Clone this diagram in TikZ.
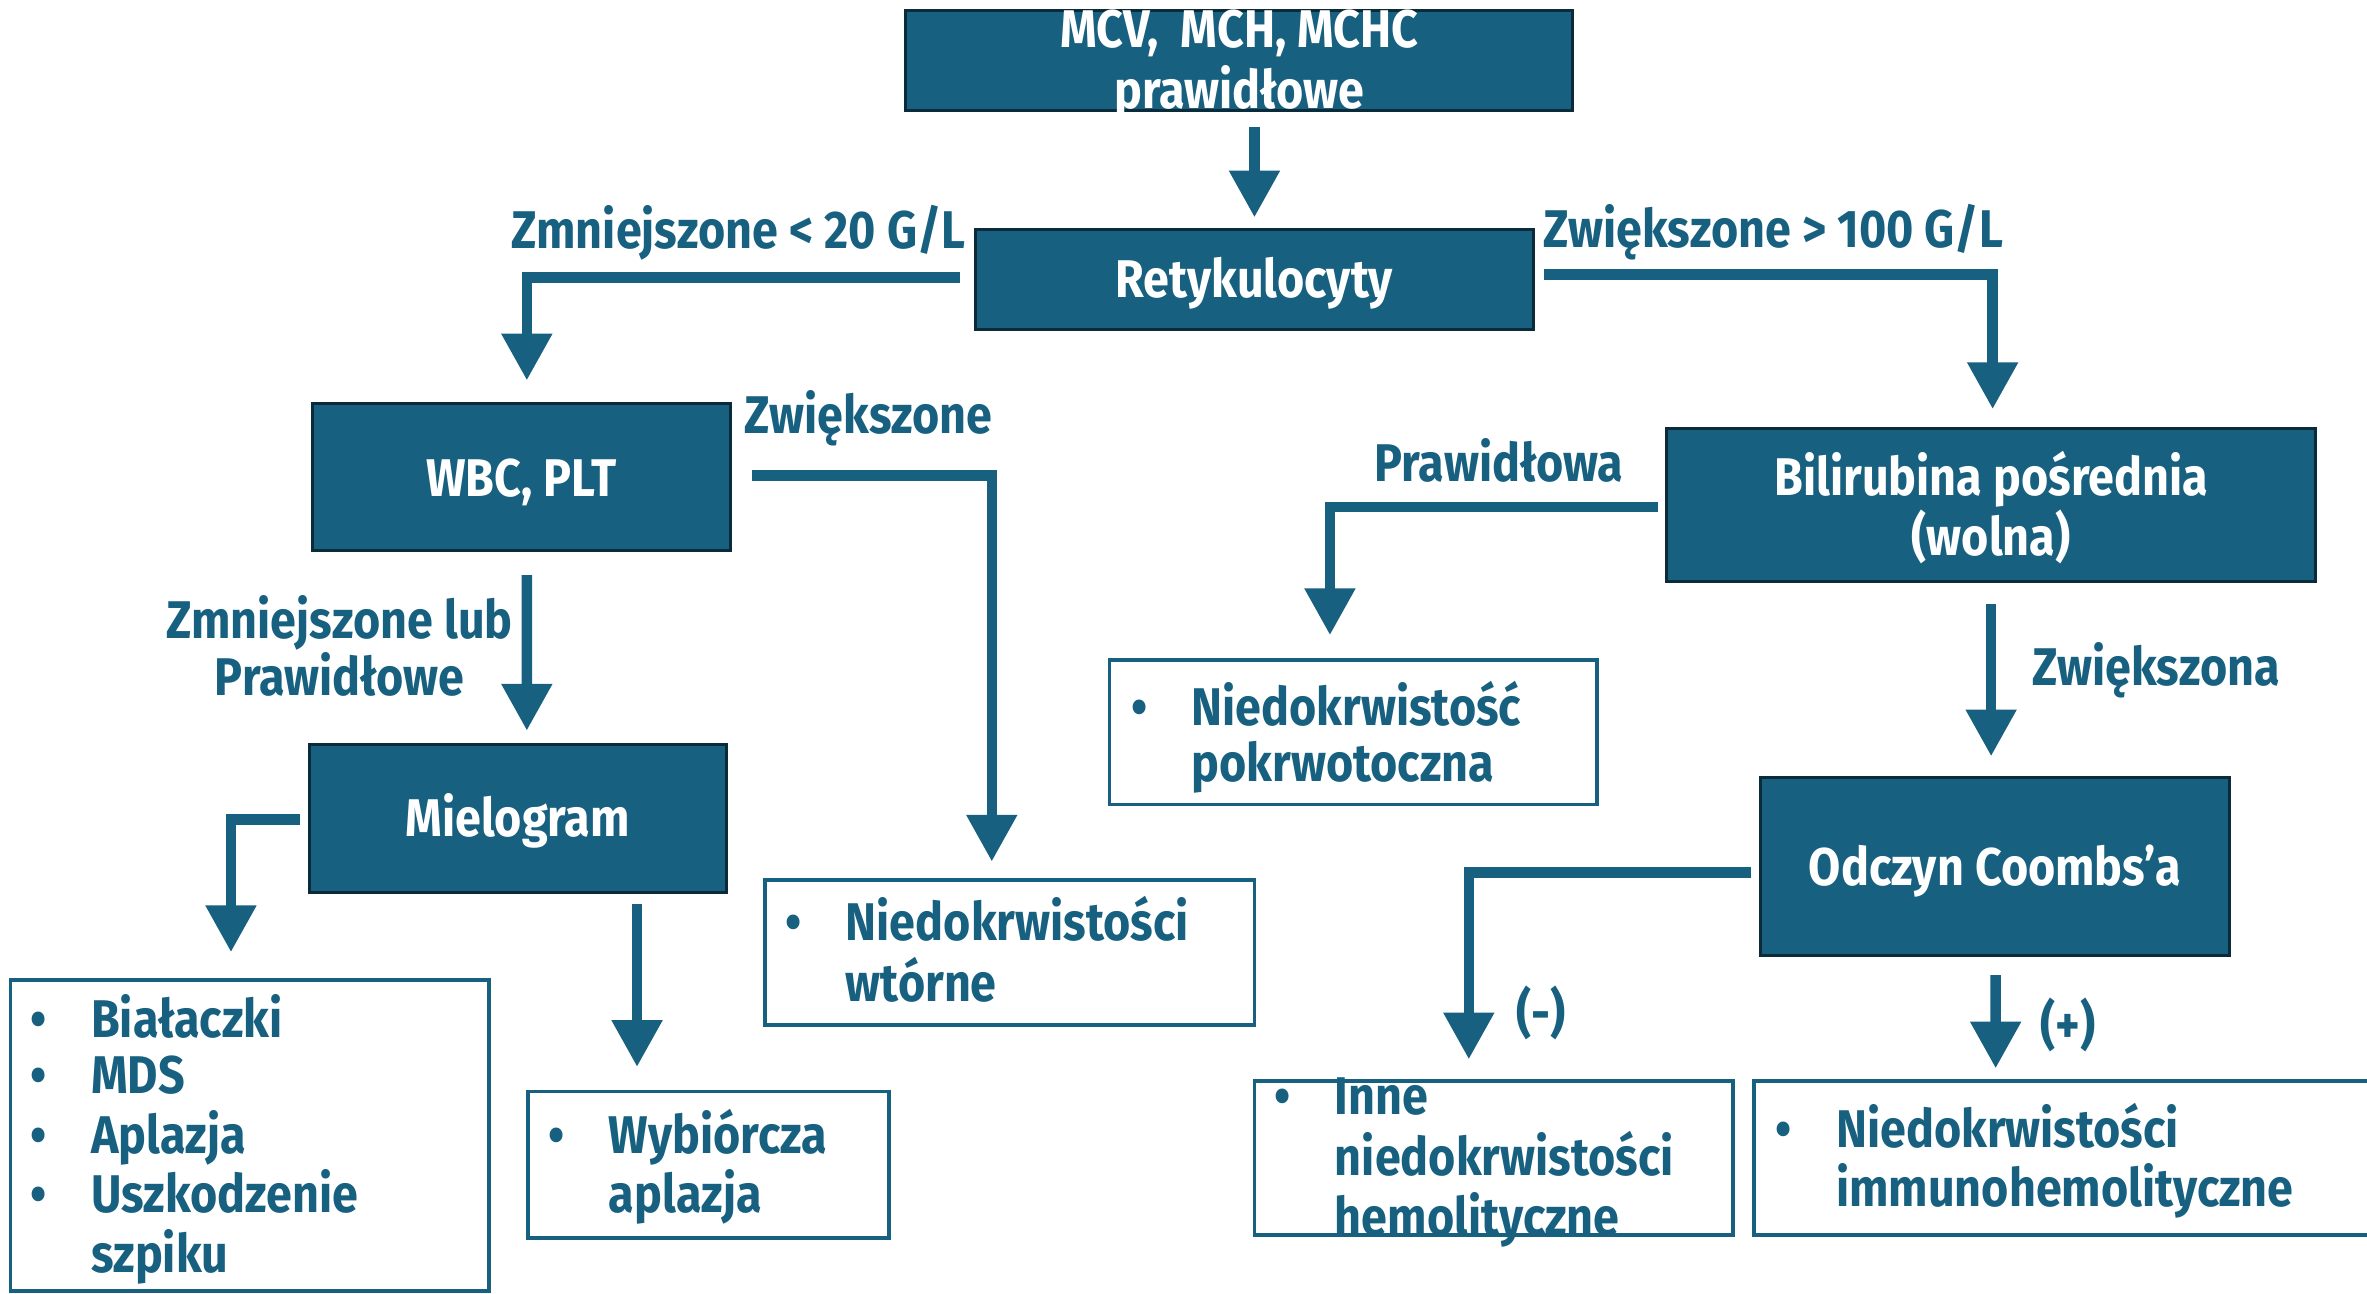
\documentclass[tikz,border=0pt]{standalone}
\usepackage{fontspec}
\setmainfont{Fira Sans}[FakeStretch=0.88]
\usetikzlibrary{arrows.meta,calc}
\definecolor{boxblue}{HTML}{17607F}
\definecolor{boxdark}{HTML}{0B2A3A}
\newcommand\dfont{\fontsize{20}{21.6}\selectfont\bfseries}
\newcommand\upr{\rule{0pt}{18.5pt}}
\tikzset{
  darkbox/.style={draw=boxdark, fill=boxblue, line width=0.04cm, text=white, font=\dfont, align=center, inner sep=0pt},
  lightbox/.style={draw=boxblue, fill=white, line width=0.05cm, inner sep=0pt},
  listtext/.style={text=boxblue, font=\dfont, anchor=west, inner sep=0pt},
  lbl/.style={text=boxblue, font=\dfont, inner sep=0pt},
  conn/.style={draw=boxblue, line width=0.14cm, line join=miter, -{Triangle[length=0.62cm, width=0.64cm]}}
}
\newcommand\blist[1]{{\renewcommand\arraystretch{0.97}\begin{tabular}{@{}p{0.8cm}@{}l@{}}#1\end{tabular}}}
\begin{document}
\begin{tikzpicture}[x=0.02cm, y=-0.02cm]
\useasboundingbox (0,0) rectangle (1568,857);
% dark boxes
\node[darkbox, minimum width=442*0.02cm, minimum height=66*0.02cm] (top) at (821,40) {\raisebox{-7.5pt}[0pt][0pt]{\begin{tabular}{@{}c@{}}MCV,\ \ MCH, MCHC\\prawidłowe\end{tabular}}};
\node[darkbox, minimum width=370*0.02cm, minimum height=66*0.02cm] (ret) at (831,185) {\upr Retykulocyty};
\node[darkbox, minimum width=277*0.02cm, minimum height=98*0.02cm] (wbc) at (345.5,316) {\upr WBC, PLT};
\node[darkbox, minimum width=276*0.02cm, minimum height=98*0.02cm] (miel) at (343,542) {\upr Mielogram};
\node[darkbox, minimum width=430*0.02cm, minimum height=101*0.02cm] (bil) at (1319,334.5) {\upr Bilirubina pośrednia\\(wolna)};
\node[darkbox, minimum width=311*0.02cm, minimum height=118*0.02cm] (coo) at (1321.5,574) {\upr Odczyn Coombs’a};
% light boxes
\node[lightbox, minimum width=317*0.02cm, minimum height=206*0.02cm] (bial) at (165.5,752) {};
\node[lightbox, minimum width=239*0.02cm, minimum height=97*0.02cm] (wyb) at (469.5,771.5) {};
\node[lightbox, minimum width=324*0.02cm, minimum height=96*0.02cm] (wto) at (669,631) {};
\node[lightbox, minimum width=323*0.02cm, minimum height=96*0.02cm] (pok) at (896.5,485) {};
\node[lightbox, minimum width=317*0.02cm, minimum height=102*0.02cm] (inne) at (989.5,767) {};
\node[lightbox, minimum width=418*0.02cm, minimum height=102*0.02cm] (imm) at (1371,767) {};
% list texts
\node[listtext] (bialt) at (20,756.5) {\blist{\textbullet & Białaczki\\ \textbullet & MDS\\ \textbullet & Aplazja\\ \textbullet & Uszkodzenie\\ & szpiku}};
\node[listtext] (wybt) at (363,774.5) {\blist{\textbullet & Wybiórcza\\ & aplazja}};
\node[listtext] (wtot) at (520,634) {\blist{\textbullet & Niedokrwistości\\ & wtórne}};
\node[listtext] (pokt) at (749,490) {\blist{\textbullet & Niedokrwistość\\ & pokrwotoczna}};
\node[listtext] (innet) at (844,771) {\blist{\textbullet & Inne\\ & niedokrwistości\\ & hemolityczne}};
\node[listtext] (immt) at (1176,770.5) {\blist{\textbullet & Niedokrwistości\\ & immunohemolityczne}};
% labels
\node[lbl, anchor=east] (l1) at (640,154) {Zmniejszone < 20 G/L};
\node[lbl, anchor=west] (l2) at (1022,154) {Zwiększone > 100 G/L};
\node[lbl, anchor=west] (l3) at (493,277) {Zwiększone};
\node[lbl, align=center] (l4) at (225,428) {Zmniejszone lub\\Prawidłowe};
\node[lbl] (l5) at (993,305) {Prawidłowa};
\node[lbl, anchor=west] (l6) at (1346,444) {Zwiększona};
\node[lbl] (l7) at (1021,671) {(-)};
\node[lbl] (l8) at (1370,679) {(+)};
% connectors
\draw[conn] ($(ret.north)+(0,-67)$) -- ($(ret.north)+(0,-7)$);
\draw[conn] ($(ret.west)+(-9,-1)$) -| ($(wbc.north)+(3.5,-14)$);
\draw[conn] ($(ret.east)+(6,-3)$) -| ($(bil.north)+(1,-12)$);
\draw[conn] ($(wbc.south)+(3.5,15)$) -- ($(miel.north)+(6,-8)$);
\draw[conn] ($(wbc.east)+(13,-1)$) -| ($(wto.north)+(-12,-11)$);
\draw[conn] ($(miel.west)+(-5,1)$) -| ($(bial.north)+(-12.5,-17)$);
\draw[conn] ($(miel.south)+(79,7)$) -- ($(wyb.north)+(-47.5,-15)$);
\draw[conn] ($(bil.west)+(-5,1.5)$) -| ($(pok.north)+(-15.5,-15)$);
\draw[conn] ($(bil.south)+(0,14)$) -- ($(coo.north)+(-2.5,-13)$);
\draw[conn] ($(coo.west)+(-5,4)$) -| ($(inne.north)+(-16.5,-13)$);
\draw[conn] ($(coo.south)+(0.5,12)$) -- ($(imm.north)+(-49,-7)$);
\end{tikzpicture}
\end{document}
